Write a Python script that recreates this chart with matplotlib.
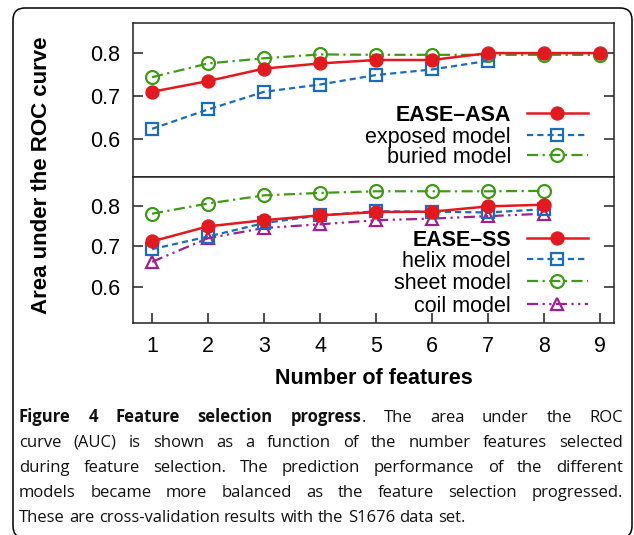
import matplotlib
matplotlib.use('Agg')
import matplotlib.pyplot as plt
from matplotlib.patches import FancyBboxPatch

# data
features = [1, 2, 3, 4, 5, 6, 7, 8, 9]

ease_asa = [0.710, 0.735, 0.764, 0.776, 0.784, 0.784, 0.800, 0.800, 0.800]
exposed = [0.624, 0.669, 0.710, 0.727, 0.749, 0.762, 0.782]
buried = [0.744, 0.776, 0.788, 0.797, 0.796, 0.796, 0.796, 0.796, 0.796]

ease_ss = [0.712, 0.749, 0.764, 0.776, 0.784, 0.785, 0.798, 0.802]
helix = [0.693, 0.724, 0.757, 0.776, 0.786, 0.785, 0.783, 0.791]
sheet = [0.780, 0.805, 0.825, 0.831, 0.835, 0.835, 0.835, 0.836]
coil = [0.662, 0.720, 0.745, 0.754, 0.764, 0.768, 0.774, 0.780]

y_ticks = [0.6, 0.7, 0.8]

caption = [
    [("Figure 4 Feature selection progress", "bold"), (". The area under the ROC", "normal")],
    [("curve (AUC) is shown as a function of the number features selected", "normal")],
    [("during feature selection. The prediction performance of the different", "normal")],
    [("models became more balanced as the feature selection progressed.", "normal")],
    [("These are cross-validation results with the S1676 data set.", "normal")],
]

RED = '#e2191f'
BLUE = '#1a6cc0'
GREEN = '#3f9a16'
PURPLE = '#a11f8f'

styles = {
    'main': dict(color=RED, lw=1.8, ls='-', marker='o', ms=9.3, mfc=RED, mec=RED),
    'blue': dict(color=BLUE, lw=1.6, dashes=(2.8, 1.8), marker='s', ms=8.7, mfc='none', mec=BLUE, mew=1.6),
    'green': dict(color=GREEN, lw=1.6, dashes=(5, 2, 1, 2), marker='o', ms=9.3, mfc='none', mec=GREEN, mew=1.6),
    'purple': dict(color=PURPLE, lw=1.6, dashes=(5, 2, 1, 2, 1, 2), marker='^', ms=8.7, mfc='none', mec=PURPLE, mew=1.6),
}

W, H = 634, 535
plt.rcParams['font.family'] = ['Liberation Sans', 'DejaVu Sans']
fig = plt.figure(figsize=(W / 100, H / 100), dpi=100)


def px_box(l, t, r, b):
    return [l / W, 1 - b / H, (r - l) / W, (b - t) / H]


def style_axes(ax, show_x):
    ax.set_xlim(0.66, 9.25)
    ax.set_ylim(0.512, 0.870)
    ax.set_yticks(y_ticks)
    ax.set_yticklabels(['%.1f' % v for v in y_ticks])
    ax.set_xticks(features)
    ax.tick_params(axis='y', direction='in', left=True, right=True, length=7, width=1.1,
                   labelsize=15.5, pad=9, colors='#222222', labelcolor='black')
    if show_x:
        ax.tick_params(axis='x', direction='in', bottom=True, top=False, length=7, width=1.1,
                       labelsize=15.5, pad=9, colors='#222222', labelcolor='black')
    else:
        ax.tick_params(axis='x', bottom=False, top=False, labelbottom=False)
    for sp in ax.spines.values():
        sp.set_linewidth(1.1)
        sp.set_color('#222222')


def legend_row(ax, y, label, st, bold=False):
    ax.text(0.786, y, label, transform=ax.transAxes, ha='right', va='center_baseline',
            fontsize=15.5, fontweight='bold' if bold else 'normal')
    kw = {k: v for k, v in st.items() if k not in ('marker', 'ms', 'mfc', 'mec', 'mew')}
    ax.plot([0.819, 0.946], [y, y], transform=ax.transAxes, clip_on=False, **kw)
    ax.plot([0.8825], [y], transform=ax.transAxes, clip_on=False, ls='none',
            marker=st['marker'], ms=st['ms'], mfc=st['mfc'], mec=st['mec'], mew=st.get('mew', 1))


ax1 = fig.add_axes(px_box(133, 23, 614, 177))
ax2 = fig.add_axes(px_box(133, 177, 614, 323))

ax1.plot(features[:len(buried)], buried, **styles['green'])
ax1.plot(features[:len(exposed)], exposed, **styles['blue'])
ax1.plot(features[:len(ease_asa)], ease_asa, **styles['main'])
style_axes(ax1, False)
legend_row(ax1, 0.413, 'EASE\u2013ASA', styles['main'], bold=True)
legend_row(ax1, 0.273, 'exposed model', styles['blue'])
legend_row(ax1, 0.140, 'buried model', styles['green'])

ax2.plot(features[:len(sheet)], sheet, **styles['green'])
ax2.plot(features[:len(coil)], coil, **styles['purple'])
ax2.plot(features[:len(helix)], helix, **styles['blue'])
ax2.plot(features[:len(ease_ss)], ease_ss, **styles['main'])
style_axes(ax2, True)
legend_row(ax2, 0.585, 'EASE\u2013SS', styles['main'], bold=True)
legend_row(ax2, 0.440, 'helix model', styles['blue'])
legend_row(ax2, 0.287, 'sheet model', styles['green'])
legend_row(ax2, 0.130, 'coil model', styles['purple'])

fig.text(42 / W, 1 - 175 / H, 'Area under the ROC curve', rotation=90, ha='center', va='center',
         fontsize=16, fontweight='bold')
fig.text(374 / W, 1 - 378 / H, 'Number of features', ha='center', va='center',
         fontsize=15.5, fontweight='bold')

# rounded frame around figure + caption
frame = FancyBboxPatch((0.13, -0.03), 6.19, 5.30, boxstyle='round,pad=0,rounding_size=0.12',
                       transform=fig.dpi_scale_trans, fill=False, lw=1.1, ec='black')
fig.add_artist(frame)

# justified caption
cap_font = dict(family=['Open Sans', 'DejaVu Sans'], fontsize=12.0, color='#111111')
cap_left, cap_right = 19, 623
base0, line_step = 421.5, 25.25
renderer = fig.canvas.get_renderer()


def text_width(s, weight):
    t = fig.text(0, 0, s, fontweight=weight, **cap_font)
    w = t.get_window_extent(renderer).width
    t.remove()
    return w


def line_words(segments):
    words = [[]]
    for txt, wt in segments:
        for i, p in enumerate(txt.split(' ')):
            if i > 0:
                words.append([])
            if p:
                words[-1].append((p, wt))
    return [w for w in words if w]


space_w = text_width('x x', 'normal') - text_width('xx', 'normal')
for i, segs in enumerate(caption):
    words = line_words(segs)
    widths = [[text_width(p, wt) for p, wt in w] for w in words]
    total = sum(sum(ws) for ws in widths)
    last = i == len(caption) - 1
    gap = space_w if last else (cap_right - cap_left - total) / (len(words) - 1)
    x = cap_left
    y = 1 - (base0 + i * line_step) / H
    for w, ws in zip(words, widths):
        for (p, wt), pw in zip(w, ws):
            fig.text(x / W, y, p, fontweight=wt, va='baseline', ha='left', **cap_font)
            x += pw
        x += gap

fig.savefig('out.png', dpi=100)
